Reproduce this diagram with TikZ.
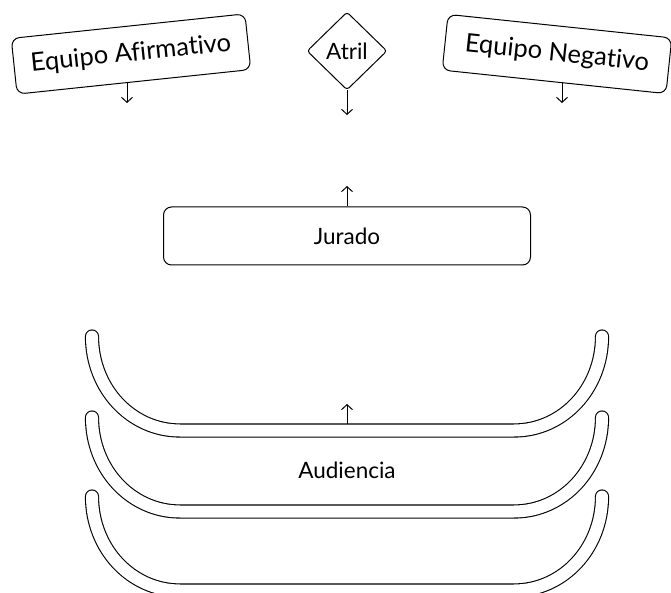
\documentclass[tikz,border=0pt]{standalone}
\usepackage{fontspec}
\setmainfont{Lato}[Ligatures={NoCommon}]
\usetikzlibrary{arrows.meta,shapes.geometric}

\begin{document}
\begin{tikzpicture}[x=1pt,y=-1pt,
    box/.style={draw,rounded corners=8pt,line width=1pt,inner sep=0pt},
    arr/.style={-{Straight Barb[length=5pt,width=11pt]},line width=1pt},
    tube/.style={line width=1.1pt,double=white,double distance=12pt,line cap=round},
    big/.style={font=\fontsize{25.5}{30}\selectfont},
    mid/.style={font=\fontsize{22.5}{27}\selectfont}]
        \useasboundingbox (0,0) rectangle (671,593);

        % top row
        \node[box,big,rotate=6,minimum width=235pt,minimum height=56pt] (afirm) at (131,54) {Equipo Afirmativo};
        \node[box,big,rotate=-6,minimum width=225pt,minimum height=56pt] (negat) at (557,54) {Equipo Negativo};
        \node[draw,diamond,mid,line width=1pt,rounded corners=3pt,inner sep=0pt,
              minimum width=80pt,minimum height=78pt] (atril) at (347,51) {Atril};

        \coordinate (afirmOut) at (127,103);
        \coordinate (negatOut) at (562,103);
        \coordinate (atrilOut) at (347,115);
        \draw[arr] (afirmOut |- afirm.south) -- (afirmOut);
        \draw[arr] (negatOut |- negat.south) -- (negatOut);
        \draw[arr] (atril.south) -- (atrilOut);

        % jurado
        \node[box,mid,minimum width=367pt,minimum height=58pt] (jurado) at (347,236) {Jurado};
        \coordinate (juradoOut) at (347,186);
        \draw[arr] (jurado.north) -- (juradoOut);

        % audiencia
        \foreach \yb in {430.5,511.5,590.5}
          \draw[tube] (92,\yb-94) .. controls (92,\yb-42) and (131,\yb) .. (180,\yb)
            -- (514,\yb) .. controls (563,\yb) and (602,\yb-42) .. (602,\yb-94);
        \node[mid] (audiencia) at (347,470) {Audiencia};
        \coordinate (gradas) at (347,424);
        \coordinate (gradasOut) at (347,404);
        \draw[arr] (gradas) -- (gradasOut);
\end{tikzpicture}
\end{document}
